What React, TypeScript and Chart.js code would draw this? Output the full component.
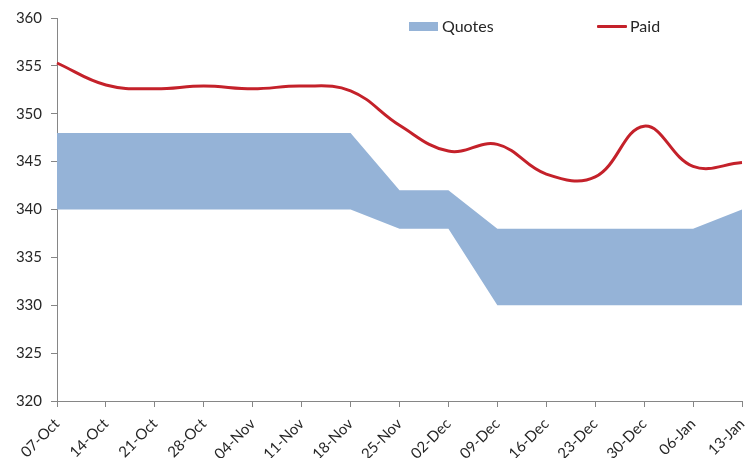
import React, { useEffect, useRef } from "react";
import { Chart, registerables } from "chart.js";

Chart.register(...registerables);

const categories = ["07-Oct", "14-Oct", "21-Oct", "28-Oct", "04-Nov", "11-Nov", "18-Nov", "25-Nov", "02-Dec", "09-Dec", "16-Dec", "23-Dec", "30-Dec", "06-Jan", "13-Jan"];
const quotesLow = [340, 340, 340, 340, 340, 340, 340, 338, 338, 330, 330, 330, 330, 330, 330];
const quotesHigh = [348, 348, 348, 348, 348, 348, 348, 342, 342, 338, 338, 338, 338, 338, 340];
const paid = [355.3, 353.0, 352.6, 352.9, 352.6, 352.9, 352.4, 348.8, 346.1, 346.8, 343.7, 343.4, 348.7, 344.5, 344.9];

const BAND = "#95B3D7";
const RED = "#C4212A";
const AXIS = "#868686";
const FONT = "Lato, 'Open Sans', sans-serif";

export default function App() {
  const ref = useRef<HTMLCanvasElement | null>(null);
  useEffect(() => {
    const ctx = ref.current;
    if (!ctx) return;
    const tickFont = { family: FONT, size: 15 };
    const chart = new Chart(ctx, {
      type: "line",
      data: {
        labels: categories,
        datasets: [
          {
            label: "Paid",
            data: paid,
            borderColor: RED,
            borderWidth: 3,
            pointRadius: 0,
            tension: 0.4,
            fill: false,
          },
          {
            label: "Quotes low",
            data: quotesLow,
            borderWidth: 0,
            borderColor: BAND,
            backgroundColor: BAND,
            pointRadius: 0,
            tension: 0,
            fill: false,
          },
          {
            label: "Quotes",
            data: quotesHigh,
            borderWidth: 0,
            borderColor: BAND,
            backgroundColor: BAND,
            pointRadius: 0,
            tension: 0,
            fill: 1,
          },
        ],
      },
      options: {
        animation: false,
        responsive: false,
        layout: { padding: { top: 18, right: 4, left: 0, bottom: 0 } },
        plugins: { legend: { display: false }, tooltip: { enabled: false } },
        scales: {
          x: {
            type: "category",
            offset: false,
            grid: { display: true, drawOnChartArea: false, drawTicks: true, tickLength: 6, color: AXIS },
            border: { display: true, color: AXIS, width: 1 },
            ticks: { minRotation: 45, maxRotation: 45, autoSkip: false, font: tickFont, color: "#262626", padding: 8 },
            afterFit: (s: any) => { s.height = 57; s.paddingRight = 0; s.paddingLeft = 0; },
          },
          y: {
            min: 320,
            max: 360,
            grid: { display: true, drawOnChartArea: false, drawTicks: true, tickLength: 6, color: AXIS },
            border: { display: true, color: AXIS, width: 1 },
            ticks: { stepSize: 5, font: tickFont, color: "#262626", padding: 9 },
            afterFit: (s: any) => { s.width = 57; },
          },
        },
      },
    });
    return () => chart.destroy();
  }, []);

  const legendText: React.CSSProperties = {
    position: "absolute",
    fontFamily: FONT,
    fontSize: 16,
    color: "#262626",
    lineHeight: "18px",
    top: 17,
  };

  return (
    <div style={{ position: "fixed", left: 0, top: 0, width: 746, height: 458, background: "#fff" }}>
      <canvas ref={ref} width={746} height={458} style={{ width: 746, height: 458, display: "block" }} />
      <div style={{ position: "absolute", left: 409, top: 22, width: 29, height: 9, background: BAND }} />
      <span style={{ ...legendText, left: 442 }}>Quotes</span>
      <div style={{ position: "absolute", left: 597, top: 25, width: 30, height: 3, background: RED, borderRadius: 1 }} />
      <span style={{ ...legendText, left: 630 }}>Paid</span>
    </div>
  );
}
